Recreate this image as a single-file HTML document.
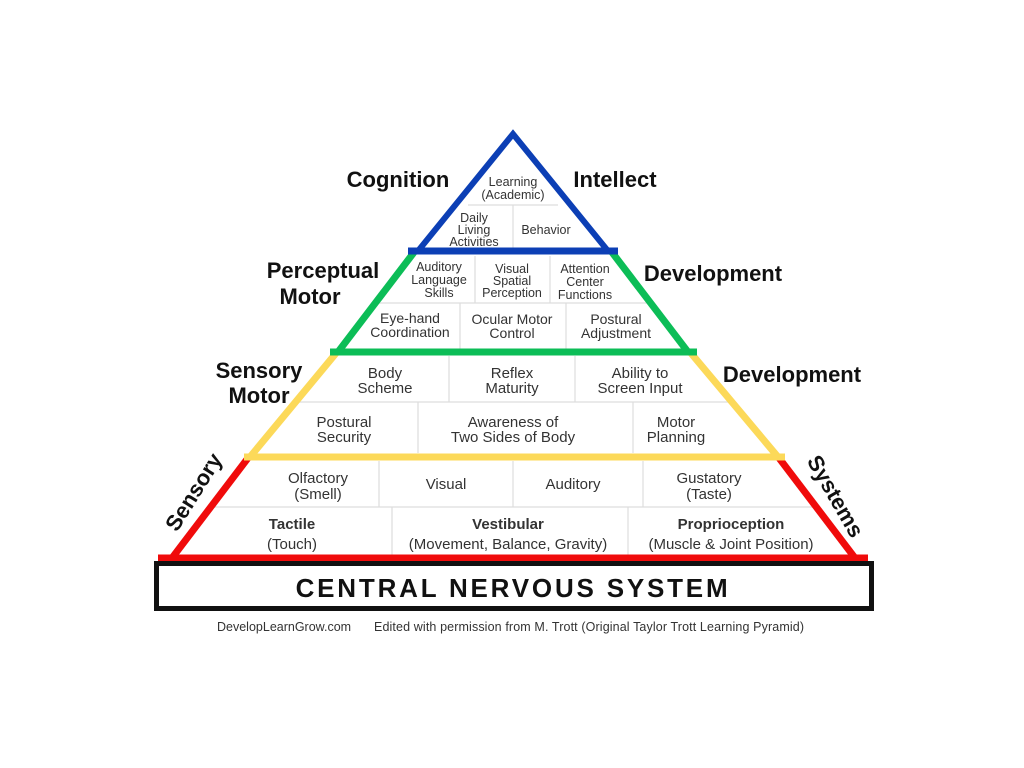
<!DOCTYPE html>
<html><head><meta charset="utf-8"><style>
body{margin:0;background:#fff}
svg{display:block}
text{font-family:"Liberation Sans",sans-serif}
.c{font-size:15px;fill:#333;text-anchor:middle}
.c2{font-size:14px;fill:#333;text-anchor:middle}
.s{font-size:12.5px;fill:#333;text-anchor:middle}
.b{font-size:22px;font-weight:bold;fill:#111;text-anchor:middle}
.g{stroke:#ddd;stroke-width:1.2}
</style></head><body>
<svg width="1024" height="768" viewBox="0 0 1024 768">
<rect width="1024" height="768" fill="#fff"/>
<g class="g">
<line x1="468" y1="205" x2="558" y2="205"/><line x1="513" y1="205" x2="513" y2="248"/>
<line x1="378" y1="303" x2="648" y2="303"/><line x1="475" y1="256" x2="475" y2="303"/><line x1="550" y1="256" x2="550" y2="303"/>
<line x1="460" y1="303" x2="460" y2="349"/><line x1="566" y1="303" x2="566" y2="349"/>
<line x1="295" y1="402" x2="732" y2="402"/><line x1="449" y1="356" x2="449" y2="402"/><line x1="575" y1="356" x2="575" y2="402"/>
<line x1="418" y1="402" x2="418" y2="453"/><line x1="633" y1="402" x2="633" y2="453"/>
<line x1="208" y1="507" x2="818" y2="507"/><line x1="379" y1="461" x2="379" y2="507"/><line x1="513" y1="461" x2="513" y2="507"/><line x1="643" y1="461" x2="643" y2="507"/>
<line x1="392" y1="507" x2="392" y2="555"/><line x1="628" y1="507" x2="628" y2="555"/>
</g>
<g stroke="#f00b0b" stroke-width="7" fill="none">
<line x1="248" y1="458" x2="172" y2="558"/><line x1="779" y1="458" x2="855" y2="558"/>
<line x1="158" y1="558" x2="868" y2="558"/></g>
<g stroke="#fcd959" stroke-width="7" fill="none">
<line x1="337" y1="352" x2="250" y2="457"/><line x1="690" y1="352" x2="778" y2="457"/>
<line x1="244" y1="457" x2="785" y2="457"/></g>
<g stroke="#0cbd57" stroke-width="7" fill="none">
<line x1="415" y1="251" x2="338" y2="352"/><line x1="611" y1="251" x2="688" y2="352"/>
<line x1="330" y1="352" x2="697" y2="352"/></g>
<g stroke="#0c3fb5" stroke-width="6" fill="none" stroke-linejoin="miter">
<polyline points="418,251 513,134 608,251"/>
<line x1="408" y1="251" x2="618" y2="251" stroke-width="7"/></g>
<rect x="156.5" y="563.5" width="715" height="45" fill="#fff" stroke="#111" stroke-width="5"/>
<text x="513" y="597" font-size="26" font-weight="bold" text-anchor="middle" letter-spacing="2.8" fill="#111">CENTRAL NERVOUS SYSTEM</text>
<text class="b" x="398" y="187">Cognition</text>
<text class="b" x="615" y="187">Intellect</text>
<text class="b" x="323" y="278">Perceptual</text>
<text class="b" x="310" y="304">Motor</text>
<text class="b" x="713" y="281">Development</text>
<text class="b" x="259" y="378">Sensory</text>
<text class="b" x="259" y="403">Motor</text>
<text class="b" x="792" y="382">Development</text>
<text class="b" transform="translate(200,496) rotate(-58)">Sensory</text>
<text class="b" transform="translate(829,500) rotate(60)">Systems</text>
<text class="s" x="513" y="186">Learning</text><text class="s" x="513" y="199">(Academic)</text>
<text class="s" x="474" y="222">Daily</text><text class="s" x="474" y="234">Living</text><text class="s" x="474" y="246">Activities</text>
<text class="s" x="546" y="234">Behavior</text>
<text class="s" x="439" y="271">Auditory</text><text class="s" x="439" y="284">Language</text><text class="s" x="439" y="297">Skills</text>
<text class="s" x="512" y="273">Visual</text><text class="s" x="512" y="285">Spatial</text><text class="s" x="512" y="297">Perception</text>
<text class="s" x="585" y="273">Attention</text><text class="s" x="585" y="286">Center</text><text class="s" x="585" y="299">Functions</text>
<text class="c2" x="410" y="323">Eye-hand</text><text class="c2" x="410" y="337">Coordination</text>
<text class="c2" x="512" y="324">Ocular Motor</text><text class="c2" x="512" y="338">Control</text>
<text class="c2" x="616" y="324">Postural</text><text class="c2" x="616" y="338">Adjustment</text>
<text class="c" x="385" y="378">Body</text><text class="c" x="385" y="393">Scheme</text>
<text class="c" x="512" y="378">Reflex</text><text class="c" x="512" y="393">Maturity</text>
<text class="c" x="640" y="378">Ability to</text><text class="c" x="640" y="393">Screen Input</text>
<text class="c" x="344" y="427">Postural</text><text class="c" x="344" y="442">Security</text>
<text class="c" x="513" y="427">Awareness of</text><text class="c" x="513" y="442">Two Sides of Body</text>
<text class="c" x="676" y="427">Motor</text><text class="c" x="676" y="442">Planning</text>
<text class="c" x="318" y="483">Olfactory</text><text class="c" x="318" y="499">(Smell)</text>
<text class="c" x="446" y="489">Visual</text>
<text class="c" x="573" y="489">Auditory</text>
<text class="c" x="709" y="483">Gustatory</text><text class="c" x="709" y="499">(Taste)</text>
<text class="c" x="292" y="529" font-weight="bold" font-size="16" fill="#111">Tactile</text><text class="c" x="292" y="549">(Touch)</text>
<text class="c" x="508" y="529" font-weight="bold" font-size="16" fill="#111">Vestibular</text><text class="c" x="508" y="549">(Movement, Balance, Gravity)</text>
<text class="c" x="731" y="529" font-weight="bold" font-size="16" fill="#111">Proprioception</text><text class="c" x="731" y="549">(Muscle &amp; Joint Position)</text>
<text x="217" y="631" font-size="12.5" fill="#333">DevelopLearnGrow.com</text>
<text x="374" y="631" font-size="12.5" fill="#333" textLength="430">Edited with permission from M. Trott (Original Taylor Trott Learning Pyramid)</text>
</svg>
</body></html>
